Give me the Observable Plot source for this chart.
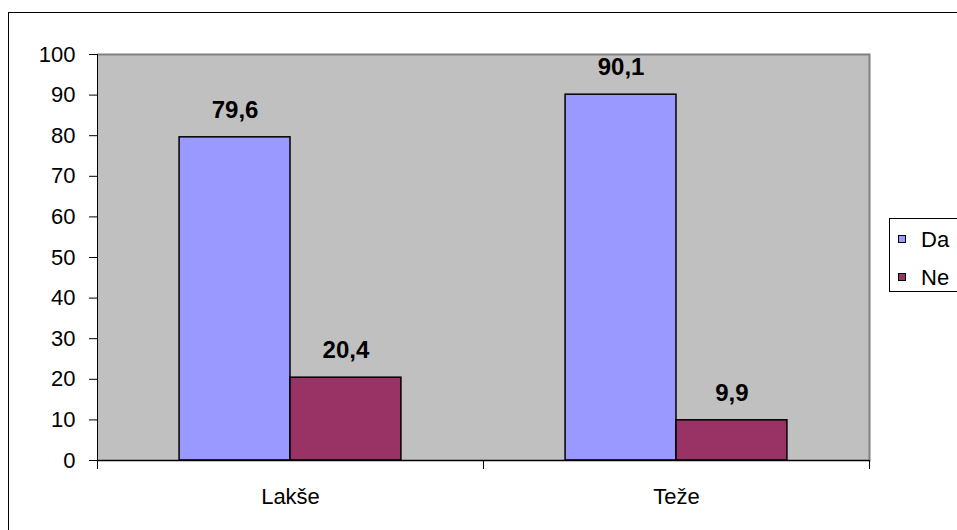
<!DOCTYPE html>
<html><head><meta charset="utf-8">
<script src="https://cdn.jsdelivr.net/npm/d3@7"></script>
<script src="https://cdn.jsdelivr.net/npm/@observablehq/plot@0.6"></script>
<style>
body{margin:0;background:#fff;font-family:"Liberation Sans",Arial,sans-serif;}
#wrap{position:relative;width:957px;height:530px;overflow:hidden;}
#chart{position:absolute;left:0;top:0;}
#border{position:absolute;left:8px;top:12px;width:1000px;height:600px;border:1px solid #000;}
#legend{position:absolute;left:889px;top:218px;width:100px;height:72px;border:1px solid #000;background:#fff}
.item{position:absolute;left:0;height:26px;width:100px;}
.sw{position:absolute;left:8px;top:8px;width:6px;height:6px;border:1.5px solid #000;}
.lb{position:absolute;left:31px;top:0;font-size:22px;line-height:26px;color:#000;}
</style></head>
<body><div id="wrap"><div id="border"></div><div id="chart"></div><div id="legend"></div></div>
<script>
const categories = ["Lakše", "Teže"];
const seriesNames = ["Da", "Ne"];
const daValues = [79.6, 90.1];
const neValues = [20.4, 9.9];
const yTicks = [0, 10, 20, 30, 40, 50, 60, 70, 80, 90, 100];
const colors = ["#9999ff", "#993366"];

const data = categories.flatMap((c, i) => [
  {cat: c, series: seriesNames[0], value: daValues[i]},
  {cat: c, series: seriesNames[1], value: neValues[i]}
]);

const W = 957, H = 530, mL = 96, mR = 88, mT = 54, mB = 70;
const plotH = H - mT - mB;
const firstCat = categories[0], lastCat = categories[categories.length - 1];

const chart = Plot.plot({
  width: W, height: H, marginLeft: mL, marginRight: mR, marginTop: mT, marginBottom: mB,
  style: {background: "transparent", fontFamily: "Liberation Sans, Arial, sans-serif", color: "#000"},
  fx: {domain: categories, padding: 0, label: null},
  x: {domain: seriesNames, paddingInner: 0, paddingOuter: 0.74, round: false, axis: null},
  y: {domain: [0, 100], axis: null, label: null},
  color: {domain: seriesNames, range: colors},
  marks: [
    Plot.frame({fill: "#c0c0c0", stroke: "#c0c0c0", strokeWidth: 1}),
    Plot.ruleY([100], {stroke: "#808080", strokeWidth: 2}),
    Plot.frame({anchor: "right", stroke: "#808080", strokeWidth: 2, fx: () => lastCat}),
    Plot.barY(data, {fx: "cat", x: "series", y: "value", fill: "series", stroke: "#000", strokeWidth: 1.5}),
    Plot.ruleY([0], {stroke: "#000", strokeWidth: 1.5}),
    Plot.frame({anchor: "left", stroke: "#000", fx: () => firstCat}),
    Plot.frame({anchor: "left", stroke: "#000", insetTop: plotH, insetBottom: -8}),
    Plot.frame({anchor: "right", stroke: "#000", insetTop: plotH, insetBottom: -8, fx: () => lastCat}),
    Plot.text(data, {fx: "cat", x: "series", y: "value",
      text: d => d.value.toFixed(1).replace(".", ","), dy: -27, fontSize: 24, fontWeight: "bold", fill: "#000"}),
    Plot.axisY({ticks: yTicks, tickSize: 8, tickPadding: 14, fontSize: 22, label: null, tickFormat: d => String(d)}),
    Plot.axisFx({anchor: "bottom", tickSize: 0, tickPadding: 28, fontSize: 22, label: null})
  ]
});
document.getElementById("chart").appendChild(chart);

const legend = document.getElementById("legend");
seriesNames.forEach((s, i) => {
  const it = document.createElement("div");
  it.className = "item";
  it.style.top = (8 + i * 38) + "px";
  it.innerHTML = `<div class="sw" style="background:${colors[i]}"></div><div class="lb">${s}</div>`;
  legend.appendChild(it);
});
</script>
</body></html>
